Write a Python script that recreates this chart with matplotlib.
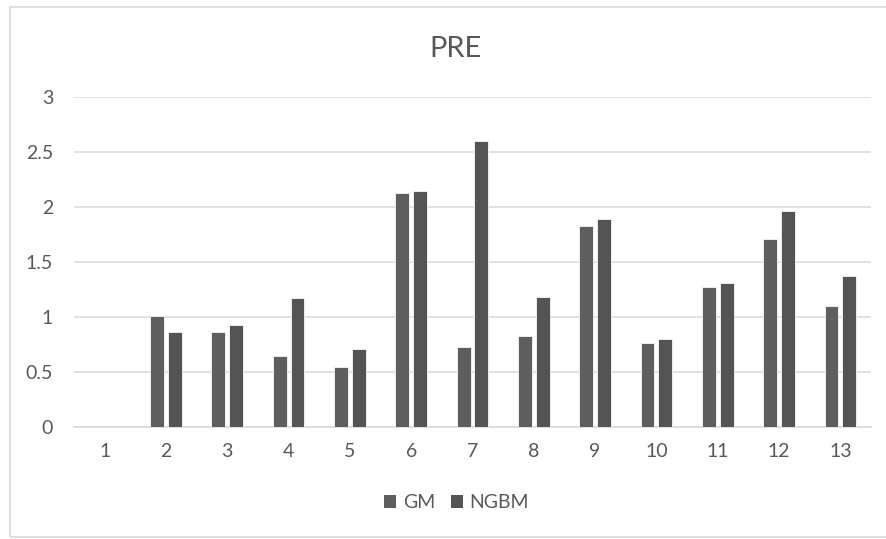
import matplotlib
matplotlib.use("Agg")
import matplotlib.pyplot as plt
import numpy as np
from matplotlib.patches import Rectangle, Patch

plt.rcParams['font.family'] = ['Lato', 'DejaVu Sans']

categories = ['1', '2', '3', '4', '5', '6', '7', '8', '9', '10', '11', '12', '13']
gm = [0, 1.01, 0.86, 0.64, 0.54, 2.13, 0.73, 0.83, 1.83, 0.76, 1.27, 1.71, 1.10]
ngbm = [0, 0.86, 0.93, 1.17, 0.71, 2.15, 2.60, 1.18, 1.89, 0.80, 1.31, 1.96, 1.37]
series_names = ['GM', 'NGBM']
y_ticks = [0, 0.5, 1, 1.5, 2, 2.5, 3]
y_tick_labels = ['0', '0.5', '1', '1.5', '2', '2.5', '3']

gm_color = '#5e5e5e'
ngbm_color = '#545454'
text_color = '#595959'
grid_color = '#d9d9d9'

fig = plt.figure(figsize=(8.86, 5.39), dpi=100)
ax = fig.add_axes([74 / 886, 1 - 426.7 / 539, (871 - 74) / 886, (426.7 - 97.3) / 539])

x = np.arange(len(categories))
w = 0.225
off = 0.145
ax.bar(x - off, gm, width=w, color=gm_color, edgecolor='#eeeeee', linewidth=0.7, zorder=3)
ax.bar(x + off, ngbm, width=w, color=ngbm_color, edgecolor='#eeeeee', linewidth=0.7, zorder=3)

ax.set_xlim(-0.5, len(categories) - 0.5)
ax.set_ylim(0, 3)
ax.set_yticks(y_ticks)
ax.set_yticklabels(y_tick_labels)
ax.set_xticks(x)
ax.set_xticklabels(categories)
ax.yaxis.grid(True, color=grid_color, linewidth=1.1, zorder=0)
ax.set_axisbelow(True)
for side in ['top', 'right', 'left']:
    ax.spines[side].set_visible(False)
ax.spines['bottom'].set_color(grid_color)
ax.spines['bottom'].set_linewidth(1.1)
ax.tick_params(axis='both', length=0, labelsize=14, colors=text_color)
ax.tick_params(axis='y', pad=15)
ax.tick_params(axis='x', pad=12)

fig.text(455 / 886, 1 - 49 / 539, 'PRE', ha='center', va='center',
         fontsize=21, color=text_color)

handles = [Patch(facecolor=gm_color, edgecolor='none'),
           Patch(facecolor=ngbm_color, edgecolor='none')]
fig.legend(handles, series_names, loc='center', bbox_to_anchor=(456.5 / 886, 1 - 503 / 539),
           ncol=2, frameon=False, fontsize=14, labelcolor=text_color,
           handlelength=0.65, handleheight=0.65, handletextpad=0.33, columnspacing=0.8)

# chart area border
fig.patches.append(Rectangle((10 / 886, 1 - 537 / 539), 1.0, (537 - 6.5) / 539,
                             transform=fig.transFigure, fill=False,
                             edgecolor=grid_color, linewidth=1.2))

fig.savefig('out.png', dpi=100)
